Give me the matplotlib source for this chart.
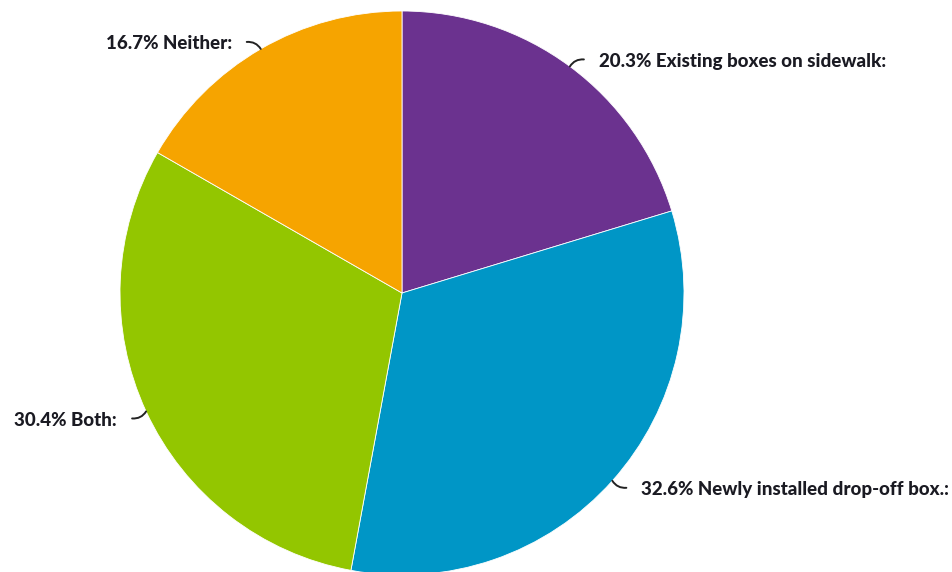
import numpy as np
import matplotlib
matplotlib.use("Agg")
import matplotlib.pyplot as plt

categories = ["Existing boxes on sidewalk:", "Newly installed drop-off box.:", "Both:", "Neither:"]
values = [20.3, 32.6, 30.4, 16.7]
colors = ["#6b328f", "#0096c6", "#93c600", "#f6a400"]

W, H = 952, 572
fig = plt.figure(figsize=(W / 100, H / 100), dpi=100)
ax = fig.add_axes([0, 0, 1, 1])

cx, cy, r = 402, 279, 282
wedges, _ = ax.pie(values, colors=colors, startangle=90, counterclock=False,
                   center=(cx, cy), radius=r, frame=True,
                   wedgeprops=dict(linewidth=0.6, edgecolor="white"))
ax.set_xlim(0, W)
ax.set_ylim(0, H)
ax.set_aspect("equal")
ax.axis("off")

for w, cat, v in zip(wedges, categories, values):
    ang = np.deg2rad((w.theta1 + w.theta2) / 2)
    px, py = cx + r * np.cos(ang), cy + r * np.sin(ang)
    sx = 1 if np.cos(ang) >= 0 else -1
    sy = 1 if np.sin(ang) >= 0 else -1
    ex, ey = px + sx * 14, py + sy * 7
    ax.annotate("", xy=(px, py), xytext=(ex, ey),
                arrowprops=dict(arrowstyle="-", color="#222222", lw=1.4,
                                connectionstyle="arc3,rad=%.2f" % (0.3 * sx * sy),
                                shrinkA=0, shrinkB=0))
    ax.text(ex + sx * 15, ey - 2, f"{v}% {cat}", ha="left" if sx > 0 else "right",
            va="center", fontsize=13.5, fontweight=900, family="Lato",
            color="#1a1a22")

fig.savefig("out.png", dpi=100, facecolor="white")
